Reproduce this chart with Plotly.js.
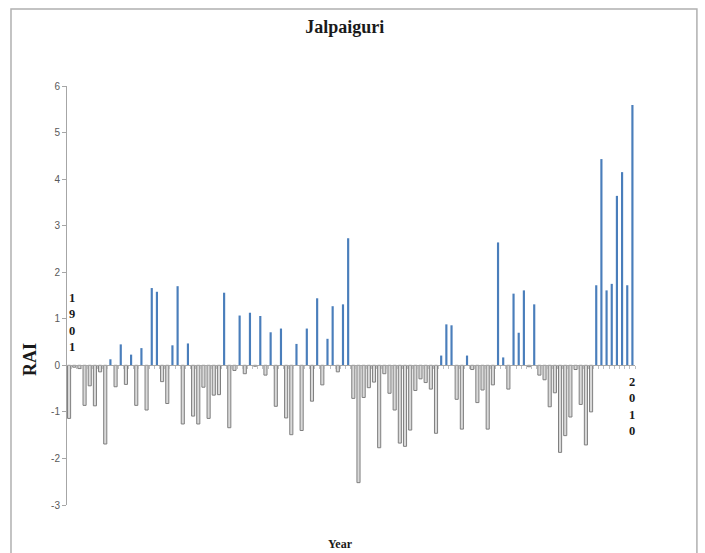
<!DOCTYPE html>
<html>
<head>
<meta charset="utf-8">
<script src="https://cdn.plot.ly/plotly-3.0.1.min.js"></script>
<style>html,body{margin:0;padding:0;background:#fff;}#chart{width:705px;height:553px;}</style>
</head>
<body>
<div id="chart"></div>
<script>
// Rainfall Anomaly Index (RAI), Jalpaiguri, 1901-2010
var startYear = 1901;
var rai = [
  -1.14, -0.04, -0.07, -0.86, -0.44, -0.87, -0.14, -1.69, 0.13, -0.46,
   0.45, -0.41, 0.23, -0.86, 0.37, -0.96, 1.66, 1.58, -0.35, -0.82,
   0.43, 1.70, -1.26, 0.47, -1.09, -1.26, -0.47, -1.14, -0.64, -0.63,
   1.56, -1.34, -0.11, 1.07, -0.18, 1.13, -0.02, 1.06, -0.21, 0.71,
  -0.88, 0.79, -1.13, -1.49, 0.46, -1.40, 0.79, -0.77, 1.44, -0.42,
   0.57, 1.27, -0.14, 1.31, 2.73, -0.71, -2.52, -0.69, -0.48, -0.36,
  -1.77, -0.18, -0.60, -0.96, -1.67, -1.74, -1.39, -0.54, -0.29, -0.37,
  -0.51, -1.46, 0.21, 0.88, 0.86, -0.73, -1.37, 0.21, -0.09, -0.80,
  -0.53, -1.37, -0.42, 2.64, 0.17, -0.51, 1.54, 0.70, 1.61, -0.03,
   1.31, -0.21, -0.31, -0.89, -0.59, -1.87, -1.51, -1.11, -0.09, -0.84,
  -1.71, -1.00, 1.72, 4.43, 1.61, 1.75, 3.64, 4.15, 1.72, 5.59
];
var years = rai.map(function (v, i) { return startYear + i; });
var yTickVals = [-3, -2, -1, 0, 1, 2, 3, 4, 5, 6];
var yTickLabels = ['-3', '-2', '-1', '0', '1', '2', '3', '4', '5', '6'];
var firstLabel = '1<br>9<br>0<br>1';
var lastLabel = '2<br>0<br>1<br>0';

var POS_FILL = '#4a7ebb', NEG_FILL = '#d9d9d9', NEG_LINE = '#7f7f7f';
var serif = 'Liberation Serif, Times New Roman, serif';

var trace = {
  type: 'bar',
  x: years,
  y: rai,
  width: rai.map(function (v) { return v >= 0 ? 0.42 : 0.6; }),
  marker: {
    color: rai.map(function (v) { return v >= 0 ? POS_FILL : NEG_FILL; }),
    line: {
      color: rai.map(function (v) { return v >= 0 ? POS_FILL : NEG_LINE; }),
      width: rai.map(function (v) { return v >= 0 ? 0 : 1; })
    }
  },
  hoverinfo: 'none'
};

var layout = {
  width: 705,
  height: 553,
  margin: {l: 67, r: 70, t: 86, b: 48, pad: 0},
  paper_bgcolor: '#ffffff',
  plot_bgcolor: '#ffffff',
  showlegend: false,
  bargap: 0,
  title: {
    text: '<b>Jalpaiguri</b>',
    font: {family: serif, size: 18, color: '#1a1a1a'},
    x: 0.489, xref: 'container', xanchor: 'center',
    y: 0.951, yref: 'container', yanchor: 'middle'
  },
  xaxis: {
    range: [1900.6, 2010.5],
    anchor: 'free',
    position: 1 / 3,
    showline: true,
    linecolor: '#a6a6a6',
    linewidth: 1,
    ticks: 'outside',
    ticklen: 3,
    tickcolor: '#c0c0c0',
    tickmode: 'linear',
    tick0: 1900.5,
    dtick: 1,
    showticklabels: false,
    showgrid: false,
    zeroline: false,
    fixedrange: true
  },
  yaxis: {
    range: [-3, 6],
    tickmode: 'array',
    tickvals: yTickVals,
    ticktext: yTickLabels,
    showline: true,
    linecolor: '#a6a6a6',
    linewidth: 1,
    ticks: 'outside',
    ticklen: 4,
    tickcolor: '#a6a6a6',
    tickfont: {family: 'Liberation Sans, Arial, sans-serif', size: 10, color: '#595959'},
    showgrid: false,
    zeroline: false,
    fixedrange: true
  },
  shapes: [{
    type: 'rect', xref: 'paper', yref: 'paper',
    x0: -0.0986, x1: 1.109, y0: -0.131, y1: 1.184,
    line: {color: '#b0b0b0', width: 1.5},
    fillcolor: 'rgba(0,0,0,0)',
    layer: 'below'
  }],
  annotations: [
    {
      text: '<b>RAI</b>', xref: 'paper', yref: 'paper',
      x: -0.065, y: 0.346, xanchor: 'center', yanchor: 'middle',
      textangle: -90, showarrow: false,
      font: {family: serif, size: 18, color: '#1a1a1a'}
    },
    {
      text: '<b>Year</b>', xref: 'paper', yref: 'paper',
      x: 0.482, y: -0.093, xanchor: 'center', yanchor: 'middle',
      showarrow: false,
      font: {family: serif, size: 12, color: '#1a1a1a'}
    },
    {
      text: '<b>' + firstLabel + '</b>', xref: 'x', yref: 'y',
      x: years[0], y: 0, xanchor: 'center', yanchor: 'bottom',
      xshift: 3, yshift: 9, showarrow: false, align: 'center',
      font: {family: serif, size: 12.5, color: '#1a1a1a'}
    },
    {
      text: '<b>' + lastLabel + '</b>', xref: 'x', yref: 'y',
      x: years[years.length - 1], y: 0, xanchor: 'center', yanchor: 'top',
      xshift: 0, yshift: -8, showarrow: false, align: 'center',
      font: {family: serif, size: 12.5, color: '#1a1a1a'}
    }
  ]
};

Plotly.newPlot('chart', [trace], layout, {staticPlot: true, displayModeBar: false});
</script>
</body>
</html>
